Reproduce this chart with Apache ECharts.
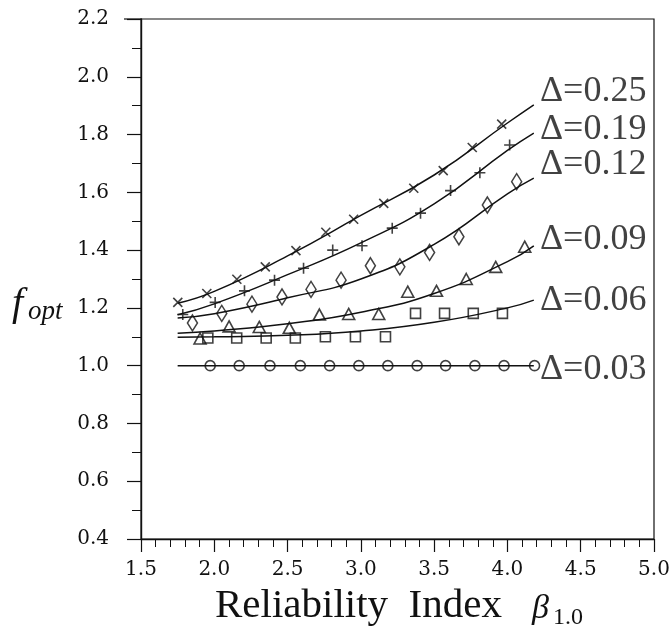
<!DOCTYPE html>
<html><head><meta charset="utf-8">
<script src="https://cdn.jsdelivr.net/npm/echarts@6/dist/echarts.min.js"></script>
<style>html,body{margin:0;padding:0;background:#fff}#c{width:670px;height:632px}</style>
</head><body><div id="c"></div>
<script>
// ---- data ----
const deltaNames = ['Δ=0.25', 'Δ=0.19', 'Δ=0.12', 'Δ=0.09', 'Δ=0.06', 'Δ=0.03'];
// fitted curves
const curveX   = [1.75, 2.0, 2.5, 3.0, 3.5, 4.0, 4.18];
const curve025 = [1.216, 1.257, 1.38, 1.52, 1.66, 1.84, 1.903];
const curve019 = [1.176, 1.214, 1.315, 1.425, 1.56, 1.745, 1.805];
const curve012 = [1.165, 1.180, 1.235, 1.30, 1.42, 1.595, 1.649];
const curve009 = [1.112, 1.120, 1.145, 1.185, 1.25, 1.36, 1.415];
const curve006 = [1.098, 1.100, 1.105, 1.12, 1.15, 1.20, 1.227];
const curve003 = [1.0, 1.0, 1.0, 1.0, 1.0, 1.0, 1.0];
// markers
const crossX = [1.751, 1.949, 2.154, 2.348, 2.557, 2.761, 2.951, 3.156, 3.361, 3.562, 3.760, 3.961];
const crossY = [1.219, 1.250, 1.299, 1.342, 1.398, 1.462, 1.507, 1.562, 1.614, 1.675, 1.755, 1.836];
const plusX = [1.785, 2.006, 2.206, 2.411, 2.609, 2.808, 3.008, 3.214, 3.407, 3.612, 3.812, 4.015];
const plusY = [1.177, 1.219, 1.259, 1.296, 1.337, 1.400, 1.415, 1.476, 1.528, 1.606, 1.668, 1.764];
const diamX = [1.851, 2.051, 2.257, 2.462, 2.660, 2.865, 3.065, 3.266, 3.469, 3.669, 3.863, 4.063];
const diamY = [1.148, 1.181, 1.213, 1.238, 1.264, 1.296, 1.346, 1.342, 1.392, 1.446, 1.556, 1.637];
const triX = [1.903, 2.101, 2.307, 2.512, 2.717, 2.917, 3.122, 3.320, 3.516, 3.719, 3.920, 4.118];
const triY = [1.094, 1.136, 1.134, 1.131, 1.177, 1.179, 1.179, 1.256, 1.259, 1.300, 1.342, 1.412];
const sqX = [1.956, 2.153, 2.354, 2.553, 2.758, 2.963, 3.168, 3.373, 3.571, 3.767, 3.966];
const sqY = [1.096, 1.096, 1.096, 1.096, 1.100, 1.100, 1.100, 1.181, 1.181, 1.181, 1.181];
const circX = [1.972, 2.170, 2.380, 2.587, 2.787, 2.986, 3.184, 3.384, 3.578, 3.778, 3.977, 4.185];
const circY = [1.0, 1.0, 1.0, 1.0, 1.0, 1.0, 1.0, 1.0, 1.0, 1.0, 1.0, 1.0];
// where the Δ labels sit (data units)
const labelX = 4.222;
const labelY = [1.948, 1.817, 1.695, 1.435, 1.227, 0.985];
// axes
const xMin = 1.5, xMax = 5.0, xStep = 0.5;
const yMin = 0.4, yMax = 2.2, yStep = 0.2;

const zip = (xs, ys) => xs.map((x, i) => [x, ys[i]]);
const curves = [curve025, curve019, curve012, curve009, curve006, curve003];

const serif = 'Liberation Serif';
const tickFont = 'DejaVu Serif';
const ink = '#111';

const lineSeries = curves.map((c, i) => ({
  type: 'line', name: deltaNames[i] + ' fit', data: zip(curveX, c),
  smooth: 0.5, showSymbol: false, symbol: 'none', silent: true,
  lineStyle: { color: ink, width: 1.5 }, z: 2
}));

const markerStyle = { color: 'rgba(0,0,0,0)', borderColor: ink, borderWidth: 1.6 };
function scatter(name, xs, ys, symbol, size) {
  return { type: 'scatter', name, data: zip(xs, ys), symbol, symbolSize: size,
    itemStyle: markerStyle, z: 3, silent: true };
}
const scatterSeries = [
  scatter('×', crossX, crossY, 'path://M0,0L10,10M10,0L0,10', 9),
  scatter('+', plusX, plusY, 'path://M5,0L5,10M0,5L10,5', 11),
  scatter('◇', diamX, diamY, 'diamond', [10, 16]),
  scatter('△', triX, triY, 'triangle', [12, 11]),
  scatter('□', sqX, sqY, 'rect', [10, 10]),
  scatter('○', circX, circY, 'circle', 10)
];

const labelSeries = {
  type: 'scatter', name: 'labels', symbolSize: 0, silent: true, z: 5,
  data: labelY.map((y, i) => ({ value: [labelX, y], name: deltaNames[i] })),
  label: { show: true, position: 'right', distance: 0, formatter: p => p.name,
    fontFamily: serif, fontSize: 36, color: ink }
};

const chart = echarts.init(document.getElementById('c'), null, { renderer: 'canvas' });
chart.setOption({
  animation: false,
  backgroundColor: '#fff',
  grid: { left: 141, right: 16, top: 19, bottom: 93, show: true, borderColor: ink, borderWidth: 1.2, outerBoundsMode: 'none' },
  xAxis: {
    type: 'value', min: xMin, max: xMax, interval: xStep,
    axisLine: { show: true, lineStyle: { color: ink, width: 1.4 } },
    axisTick: { show: true, length: 13, lineStyle: { color: ink, width: 1.2 } },
    minorTick: { show: true, splitNumber: 5, length: 8, lineStyle: { color: ink, width: 1 } },
    splitLine: { show: false },
    axisLabel: { margin: 21, fontFamily: tickFont, fontSize: 20, color: ink, formatter: v => v.toFixed(1) }
  },
  yAxis: {
    type: 'value', min: yMin, max: yMax, interval: yStep,
    axisLine: { show: true, lineStyle: { color: ink, width: 1.4 } },
    axisTick: { show: true, length: 14, lineStyle: { color: ink, width: 1.2 } },
    minorTick: { show: true, splitNumber: 2, length: 9, lineStyle: { color: ink, width: 1 } },
    splitLine: { show: false },
    axisLabel: { margin: 32, fontFamily: tickFont, fontSize: 20, color: ink, formatter: v => v.toFixed(1) }
  },
  graphic: [
    { type: 'line', shape: { x1: 124, y1: 19, x2: 141, y2: 19 }, style: { stroke: ink, lineWidth: 1.2 } },
    { type: 'text', left: 12, top: 284, style: { text: 'f', font: 'italic 40px "Liberation Serif"', fill: ink } },
    { type: 'text', left: 28, top: 298, style: { text: 'opt', font: 'italic 27px "Liberation Serif"', fill: ink } },
    { type: 'text', left: 215, top: 586, style: { text: 'Reliability  Index', font: '41px "Liberation Serif"', fill: ink } },
    { type: 'text', left: 532, top: 592, style: { text: 'β', font: 'italic 34px "Liberation Serif"', fill: ink } },
    { type: 'text', left: 553, top: 606, style: { text: '1.0', font: '24px "Liberation Serif"', fill: ink } }
  ],
  series: [...lineSeries, ...scatterSeries, labelSeries]
});
</script></body></html>
